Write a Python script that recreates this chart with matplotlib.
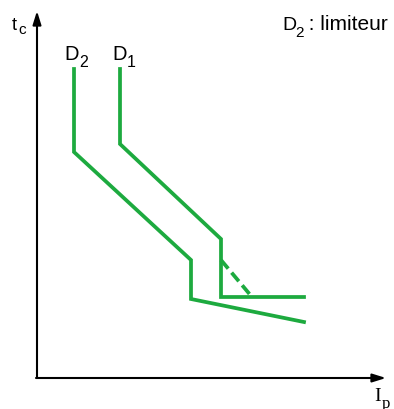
import matplotlib.pyplot as plt

# courbes de declenchement (coordonnees, en pixels)
d2_x = [74, 74, 191, 191, 304]
d2_y = [70, 153, 261, 300, 323]
d1_x = [120, 120, 221, 221, 304]
d1_y = [70, 145, 240, 298, 298]
d1_dash_x = [221, 252]
d1_dash_y = [261, 298]

green = "#1daa3f"
sans = "Liberation Sans"

fig = plt.figure(figsize=(3.94, 4.10), dpi=100)
ax = fig.add_axes([0, 0, 1, 1])
ax.set_xlim(0, 394)
ax.set_ylim(410, 0)
ax.axis("off")

# axes
ax.annotate("", xy=(37, 12), xytext=(37, 379),
            arrowprops=dict(arrowstyle="-|>,head_length=0.8,head_width=0.25", lw=1.5, color="black",
                            shrinkA=0, shrinkB=0))
ax.annotate("", xy=(386, 379), xytext=(36, 379),
            arrowprops=dict(arrowstyle="-|>,head_length=0.8,head_width=0.25", lw=1.5, color="black",
                            shrinkA=0, shrinkB=0))

ax.plot(d2_x, d2_y, color=green, lw=2.7, solid_joinstyle="miter")
ax.plot(d1_x, d1_y, color=green, lw=2.7, solid_joinstyle="miter")
ax.plot(d1_dash_x, d1_dash_y, color=green, lw=2.7, ls=(0, (3, 1.4)))

# textes (indices poses a part)
ax.text(12, 30, "t", fontsize=13, family=sans, va="baseline")
ax.text(18, 34, "c", fontsize=11, family=sans, va="baseline")
ax.text(64, 60, "D", fontsize=14.5, family=sans, va="baseline")
ax.text(79, 67, "2", fontsize=11.5, family=sans, va="baseline")
ax.text(112, 60, "D", fontsize=14.5, family=sans, va="baseline")
ax.text(127, 67, "1", fontsize=11.5, family=sans, va="baseline")
ax.text(282, 30, "D", fontsize=14, family=sans, va="baseline")
ax.text(295, 37, "2", fontsize=11, family=sans, va="baseline")
ax.text(303, 30, " : limiteur", fontsize=15, family=sans, va="baseline")
ax.text(374, 401, "I", fontsize=14, family="Liberation Serif", va="baseline")
ax.text(382, 408, "p", fontsize=12, family="Liberation Serif", va="baseline")

fig.savefig("out.png", dpi=100)
